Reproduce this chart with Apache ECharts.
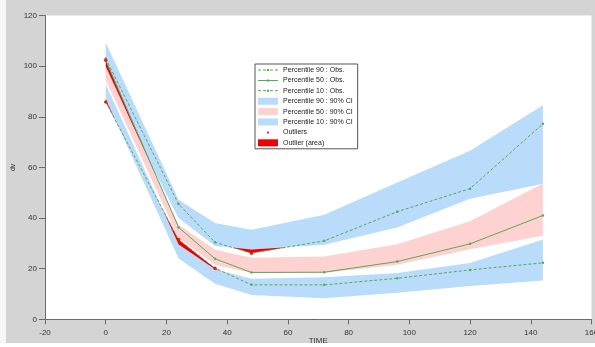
<!DOCTYPE html>
<html><head><meta charset="utf-8">
<script src="https://cdn.jsdelivr.net/npm/echarts@6/dist/echarts.min.js"></script>
<style>html,body{margin:0;padding:0;background:#fff}#c{width:595px;height:347px}</style>
</head><body><div id="c"></div>
<script>
const times = [0, 24, 36, 48, 72, 96, 120, 144];
const p90Obs = [103, 45.5, 30.4, 26.1, 31, 42.5, 51.6, 77.2];
const p50Obs = [102.3, 36.3, 23.9, 18.5, 18.6, 22.8, 29.8, 41];
const p10Obs = [85.8, 31.5, 20.2, 13.6, 13.6, 16.2, 19.5, 22.3];
const p90CiHigh = [109.3, 47.2, 38, 35.4, 41.3, 54, 66.6, 84.5];
const p90CiLow = [96, 40, 29, 27.6, 29.4, 36.3, 47.6, 53.5];
const p50CiHigh = [100, 37.3, 27.5, 24.3, 24.8, 29.6, 38.7, 53.6];
const p50CiLow = [94.5, 32, 21.5, 18.3, 18.3, 21.5, 27.7, 33];
const p10CiHigh = [92.8, 29.5, 19.8, 16, 16.6, 18.3, 22.2, 31.5];
const p10CiLow = [87, 24, 14, 9.6, 8.3, 10.5, 13.2, 15.3];
const xTicks = {min: -20, max: 160, interval: 20};
const yTicks = {min: 0, max: 120, interval: 20};

const GREEN = '#5aa85a', BLUE = '#b9dcfa', PINK = '#ffd2d2', RED = '#f00000';
const FONT = 'Liberation Sans, Arial, sans-serif';

function pairs(a) { return times.map((t, i) => [t, a[i]]); }
function outsidePolys(obs, bound, sign) {
  const polys = []; let cur = null;
  for (let i = 0; i < times.length; i++) {
    const d = sign * (obs[i] - bound[i]);
    if (i > 0) {
      const dp = sign * (obs[i - 1] - bound[i - 1]);
      if ((dp > 0) !== (d > 0)) {
        const f = dp / (dp - d);
        const t = times[i - 1] + f * (times[i] - times[i - 1]);
        const v = obs[i - 1] + f * (obs[i] - obs[i - 1]);
        if (cur) { cur.top.push([t, v]); cur.bot.push([t, v]); polys.push(cur); cur = null; }
        else cur = {top: [[t, v]], bot: [[t, v]]};
      }
    }
    if (d > 0) { if (!cur) cur = {top: [], bot: []}; cur.top.push([times[i], obs[i]]); cur.bot.push([times[i], bound[i]]); }
  }
  if (cur) polys.push(cur);
  return polys.map(p => p.top.concat(p.bot.slice().reverse()));
}
const sets = [[p90Obs, p90CiLow, p90CiHigh], [p50Obs, p50CiLow, p50CiHigh], [p10Obs, p10CiLow, p10CiHigh]];
let redPolys = [], outlierPts = [];
sets.forEach(([o, lo, hi]) => {
  redPolys = redPolys.concat(outsidePolys(o, hi, 1), outsidePolys(o, lo, -1));
  times.forEach((t, i) => { if (o[i] > hi[i] || o[i] < lo[i]) outlierPts.push([t, o[i]]); });
});

function bandSeries(name, hi, lo, color, z) {
  return {
    name, type: 'custom', z, itemStyle: {color}, data: [0], silent: true,
    renderItem: (params, api) => {
      const pts = pairs(hi).concat(pairs(lo).reverse()).map(p => api.coord(p));
      return {type: 'polygon', shape: {points: pts}, style: {fill: color}};
    }
  };
}
function lineSeries(name, data, dashed) {
  return {
    name, type: 'line', data: pairs(data), z: 5, color: GREEN,
    symbol: 'circle', symbolSize: 2.5, showSymbol: true,
    itemStyle: {color: GREEN},
    lineStyle: {color: GREEN, width: 1, type: dashed ? [3, 2] : 'solid'},
    animation: false
  };
}
const dashIcon = 'path://M0,0M20,7M0,3h3v1h-3zM5,3h3v1h-3zM12,3h3v1h-3zM17,3h3v1h-3zM9,2.5h2v2h-2z';
const solidIcon = 'path://M0,0M20,7M0,3h20v1h-20zM9,2.5h2v2h-2z';
const dotIcon = 'path://M0,0M20,7M9,2.5h2v2h-2z';

const chart = echarts.init(document.getElementById('c'), null, {renderer: 'canvas'});
chart.setOption({
  animation: false,
  backgroundColor: '#d4d4d4',
  textStyle: {fontFamily: FONT},
  grid: {left: 45, right: 3.5, top: 15.5, bottom: 27.7, show: true, backgroundColor: '#fff', borderWidth: 0,
         containLabel: false, outerBoundsMode: 'none'},
  xAxis: {
    type: 'value', min: xTicks.min, max: xTicks.max, interval: xTicks.interval,
    name: 'TIME', nameLocation: 'middle', nameGap: 17, nameMoveOverlap: false,
    nameTextStyle: {fontSize: 8, color: '#333', fontFamily: FONT},
    axisLine: {onZero: false, lineStyle: {color: '#6a6a6a', width: 1}},
    axisTick: {length: 5, lineStyle: {color: '#6a6a6a'}},
    axisLabel: {fontSize: 8, color: '#333', margin: 9, fontFamily: FONT, hideOverlap: false},
    splitLine: {show: false}
  },
  yAxis: {
    type: 'value', min: yTicks.min, max: yTicks.max, interval: yTicks.interval,
    name: 'dv', nameLocation: 'middle', nameGap: 28, nameRotate: 90, nameMoveOverlap: false,
    nameTextStyle: {fontSize: 7, color: '#333', fontFamily: FONT},
    axisLine: {show: true, onZero: false, lineStyle: {color: '#6a6a6a', width: 1}},
    axisTick: {show: true, length: 6, lineStyle: {color: '#6a6a6a'}},
    axisLabel: {fontSize: 8, color: '#333', margin: 8, fontFamily: FONT},
    splitLine: {show: false}
  },
  legend: {
    orient: 'vertical', left: 255, top: 64, selectedMode: false,
    padding: [2, 5, 2, 3], itemGap: 2.4, itemWidth: 20, itemHeight: 7,
    backgroundColor: '#fff', borderColor: '#555', borderWidth: 1, borderRadius: 0,
    textStyle: {fontSize: 7, color: '#222', lineHeight: 8, fontFamily: FONT},
    data: [
      {name: 'Percentile 90 : Obs.', icon: dashIcon},
      {name: 'Percentile 50 : Obs.', icon: solidIcon},
      {name: 'Percentile 10 : Obs.', icon: dashIcon},
      {name: 'Percentile 90 : 90% CI', icon: 'rect'},
      {name: 'Percentile 50 : 90% CI', icon: 'rect'},
      {name: 'Percentile 10 : 90% CI', icon: 'rect'},
      {name: 'Outliers', icon: dotIcon},
      {name: 'Outlier (area)', icon: 'rect'}
    ]
  },
  graphic: [
    {type: 'rect', left: 0, top: 0, z: 100, shape: {width: 6, height: 347}, style: {fill: '#f6f6f6'}},
    {type: 'rect', left: 0, top: 343, z: 100, shape: {width: 595, height: 4}, style: {fill: '#ffffff'}}
  ],
  series: [
    lineSeries('Percentile 90 : Obs.', p90Obs, true),
    lineSeries('Percentile 50 : Obs.', p50Obs, false),
    lineSeries('Percentile 10 : Obs.', p10Obs, true),
    bandSeries('Percentile 90 : 90% CI', p90CiHigh, p90CiLow, BLUE, 1),
    bandSeries('Percentile 50 : 90% CI', p50CiHigh, p50CiLow, PINK, 2),
    bandSeries('Percentile 10 : 90% CI', p10CiHigh, p10CiLow, BLUE, 1),
    {
      name: 'Outliers', type: 'scatter', z: 6, data: outlierPts, symbol: 'circle', symbolSize: 3.5,
      itemStyle: {color: RED}, silent: true
    },
    {
      name: 'Outlier (area)', type: 'custom', z: 3, itemStyle: {color: RED}, silent: true,
      data: redPolys.map((p, i) => i),
      renderItem: (params, api) => {
        const poly = redPolys[params.dataIndex];
        return {type: 'polygon', shape: {points: poly.map(p => api.coord(p))}, style: {fill: RED}};
      }
    }
  ]
});
</script></body></html>
